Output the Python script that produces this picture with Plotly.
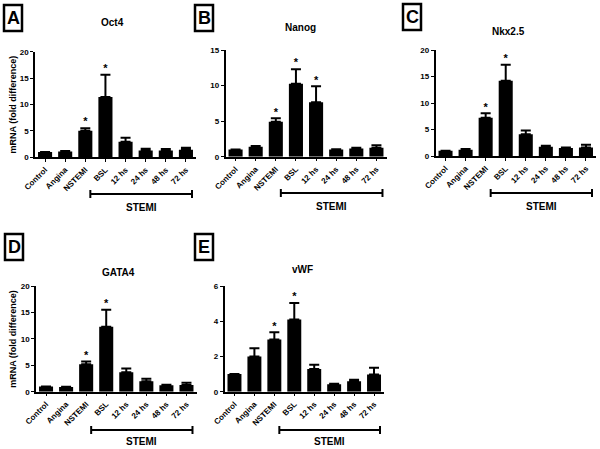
import plotly.graph_objects as go

categories = ["Control", "Angina", "NSTEMI", "BSL", "12 hs", "24 hs", "48 hs", "72 hs"]

oct4_mean = [1.0, 1.1, 5.05, 11.4, 2.95, 1.3, 1.3, 1.45]
oct4_top = [1.0, 1.2, 5.5, 15.65, 3.7, 1.6, 1.55, 1.8]
oct4_stars = [2, 3]

nanog_mean = [1.0, 1.4, 4.9, 10.27, 7.64, 1.0, 1.15, 1.25]
nanog_top = [1.0, 1.5, 5.4, 12.3, 9.9, 1.05, 1.27, 1.6]
nanog_stars = [2, 3, 4]

nkx_mean = [1.0, 1.2, 7.2, 14.2, 4.1, 1.75, 1.5, 1.6]
nkx_top = [1.0, 1.3, 8.05, 17.2, 4.8, 1.95, 1.6, 2.1]
nkx_stars = [2, 3]

gata4_mean = [1.0, 0.9, 5.2, 12.3, 3.7, 2.0, 1.2, 1.25]
gata4_top = [1.0, 0.95, 5.7, 15.5, 4.4, 2.45, 1.3, 1.7]
gata4_stars = [2, 3]

vwf_mean = [1.0, 2.0, 2.97, 4.1, 1.29, 0.42, 0.59, 0.98]
vwf_top = [1.0, 2.46, 3.37, 5.04, 1.53, 0.45, 0.68, 1.36]
vwf_stars = [2, 3]

panel_letters = ["A", "B", "C", "D", "E"]
panel_titles = ["Oct4", "Nanog", "Nkx2.5", "GATA4", "vWF"]
y_max = [20, 15, 20, 20, 6]
y_dtick = [5, 5, 5, 5, 2]
stemi_span = [2.25, 7.3]
y_title = "mRNA (fold difference)"

W, H = 600, 449
FONT = "Liberation Sans, Arial, sans-serif"


def px(x):
    return x / W


def py(y):
    return 1 - y / H


# layout geometry in pixels
panels = [
    dict(xd=(35, 196), yd=(51.7, 157.3), title=(112, 23), box=(4, 5, 22, 31), brk=194, stemi=207),
    dict(xd=(225.5, 386.5), yd=(50, 156.7), title=(300, 27), box=(195, 5, 213, 31), brk=193, stemi=206),
    dict(xd=(435.5, 596), yd=(50, 156), title=(508, 32), box=(403, 4, 421, 30), brk=193, stemi=206),
    dict(xd=(36, 196.5), yd=(286, 391.7), title=(118, 272), box=(5, 234, 23, 260), brk=430, stemi=441),
    dict(xd=(224.5, 384), yd=(286, 391.7), title=(302, 269), box=(195, 234, 213, 260), brk=430, stemi=441),
]

series = [
    (oct4_mean, oct4_top, oct4_stars),
    (nanog_mean, nanog_top, nanog_stars),
    (nkx_mean, nkx_top, nkx_stars),
    (gata4_mean, gata4_top, gata4_stars),
    (vwf_mean, vwf_top, vwf_stars),
]

fig = go.Figure()
shapes = []
annotations = []

for i, (p, (mean, top, stars)) in enumerate(zip(panels, series)):
    n = i + 1
    xa = "x" if n == 1 else f"x{n}"
    ya = "y" if n == 1 else f"y{n}"
    err_plus = [t - m for t, m in zip(top, mean)]
    fig.add_trace(go.Bar(
        x=categories, y=mean, xaxis=xa, yaxis=ya,
        marker=dict(color="black", line=dict(width=0)),
        width=0.7,
        error_y=dict(type="data", array=err_plus, arrayminus=[0] * len(mean),
                     symmetric=False, color="black", thickness=2, width=5),
        showlegend=False,
    ))
    fig.add_trace(go.Scatter(
        x=[categories[k] for k in stars], y=[top[k] for k in stars],
        xaxis=xa, yaxis=ya, mode="text", text=["*"] * len(stars),
        textposition="top center",
        textfont=dict(family=FONT, size=11, color="black", weight="bold"),
        showlegend=False, hoverinfo="skip", cliponaxis=False,
    ))
    axkey_x = "xaxis" if n == 1 else f"xaxis{n}"
    axkey_y = "yaxis" if n == 1 else f"yaxis{n}"
    fig.layout[axkey_x] = dict(
        domain=[px(p["xd"][0]), px(p["xd"][1])], anchor=ya,
        type="category", range=[-0.5, 7.5], automargin=False,
        showline=True, linecolor="black", linewidth=1.5,
        ticks="outside", ticklen=3, tickwidth=1.2, tickcolor="black",
        tickangle=-45, showgrid=False, zeroline=False,
        tickfont=dict(family=FONT, size=8, color="black", weight="bold"),
    )
    fig.layout[axkey_y] = dict(
        domain=[py(p["yd"][1]), py(p["yd"][0])], anchor=xa,
        range=[0, y_max[i]], dtick=y_dtick[i], tick0=0, automargin=False,
        showline=True, linecolor="black", linewidth=1.5,
        ticks="outside", ticklen=3, tickwidth=1.2, tickcolor="black",
        showgrid=False, zeroline=False,
        tickfont=dict(family=FONT, size=8, color="black", weight="bold"),
    )
    # title
    annotations.append(dict(
        x=px(p["title"][0]), y=py(p["title"][1]), xref="paper", yref="paper",
        text=panel_titles[i], showarrow=False, xanchor="center", yanchor="middle",
        font=dict(family=FONT, size=10, color="black", weight="bold"),
    ))
    # panel letter box
    bx0, by0, bx1, by1 = p["box"]
    shapes.append(dict(type="rect", xref="paper", yref="paper",
                       x0=px(bx0), x1=px(bx1), y0=py(by1), y1=py(by0),
                       line=dict(color="black", width=2.5), fillcolor="rgba(0,0,0,0)"))
    annotations.append(dict(
        x=px((bx0 + bx1) / 2), y=py((by0 + by1) / 2), xref="paper", yref="paper",
        text=panel_letters[i], showarrow=False, xanchor="center", yanchor="middle",
        font=dict(family=FONT, size=18, color="black", weight="bold"),
    ))
    # STEMI bracket
    bxref = xa
    yb = py(p["brk"])
    cap = 4 / H
    shapes.append(dict(type="line", xref=bxref, yref="paper",
                       x0=stemi_span[0], x1=stemi_span[1], y0=yb, y1=yb,
                       line=dict(color="black", width=2)))
    for xs in stemi_span:
        shapes.append(dict(type="line", xref=bxref, yref="paper",
                           x0=xs, x1=xs, y0=yb - cap, y1=yb + cap,
                           line=dict(color="black", width=2)))
    annotations.append(dict(
        x=(stemi_span[0] + stemi_span[1]) / 2, y=py(p["stemi"]), xref=bxref, yref="paper",
        text="STEMI", showarrow=False, xanchor="center", yanchor="middle",
        font=dict(family=FONT, size=10, color="black", weight="bold"),
    ))

# y-axis titles for A and D
for yc in [(51.7 + 157.3) / 2, (286 + 391.7) / 2]:
    annotations.append(dict(
        x=px(13), y=py(yc), xref="paper", yref="paper", text=y_title,
        showarrow=False, textangle=-90, xanchor="center", yanchor="middle",
        font=dict(family=FONT, size=9, color="black", weight="bold"),
    ))

fig.update_layout(
    template="none",
    width=W, height=H, margin=dict(l=0, r=0, t=0, b=0, autoexpand=False),
    paper_bgcolor="white", plot_bgcolor="white",
    shapes=shapes, annotations=annotations, showlegend=False,
    bargap=0.3,
)

fig.write_html(
    "out.html",
    config={"displayModeBar": False},
    post_script="document.body.style.margin='0';document.body.style.overflow='hidden';",
)
